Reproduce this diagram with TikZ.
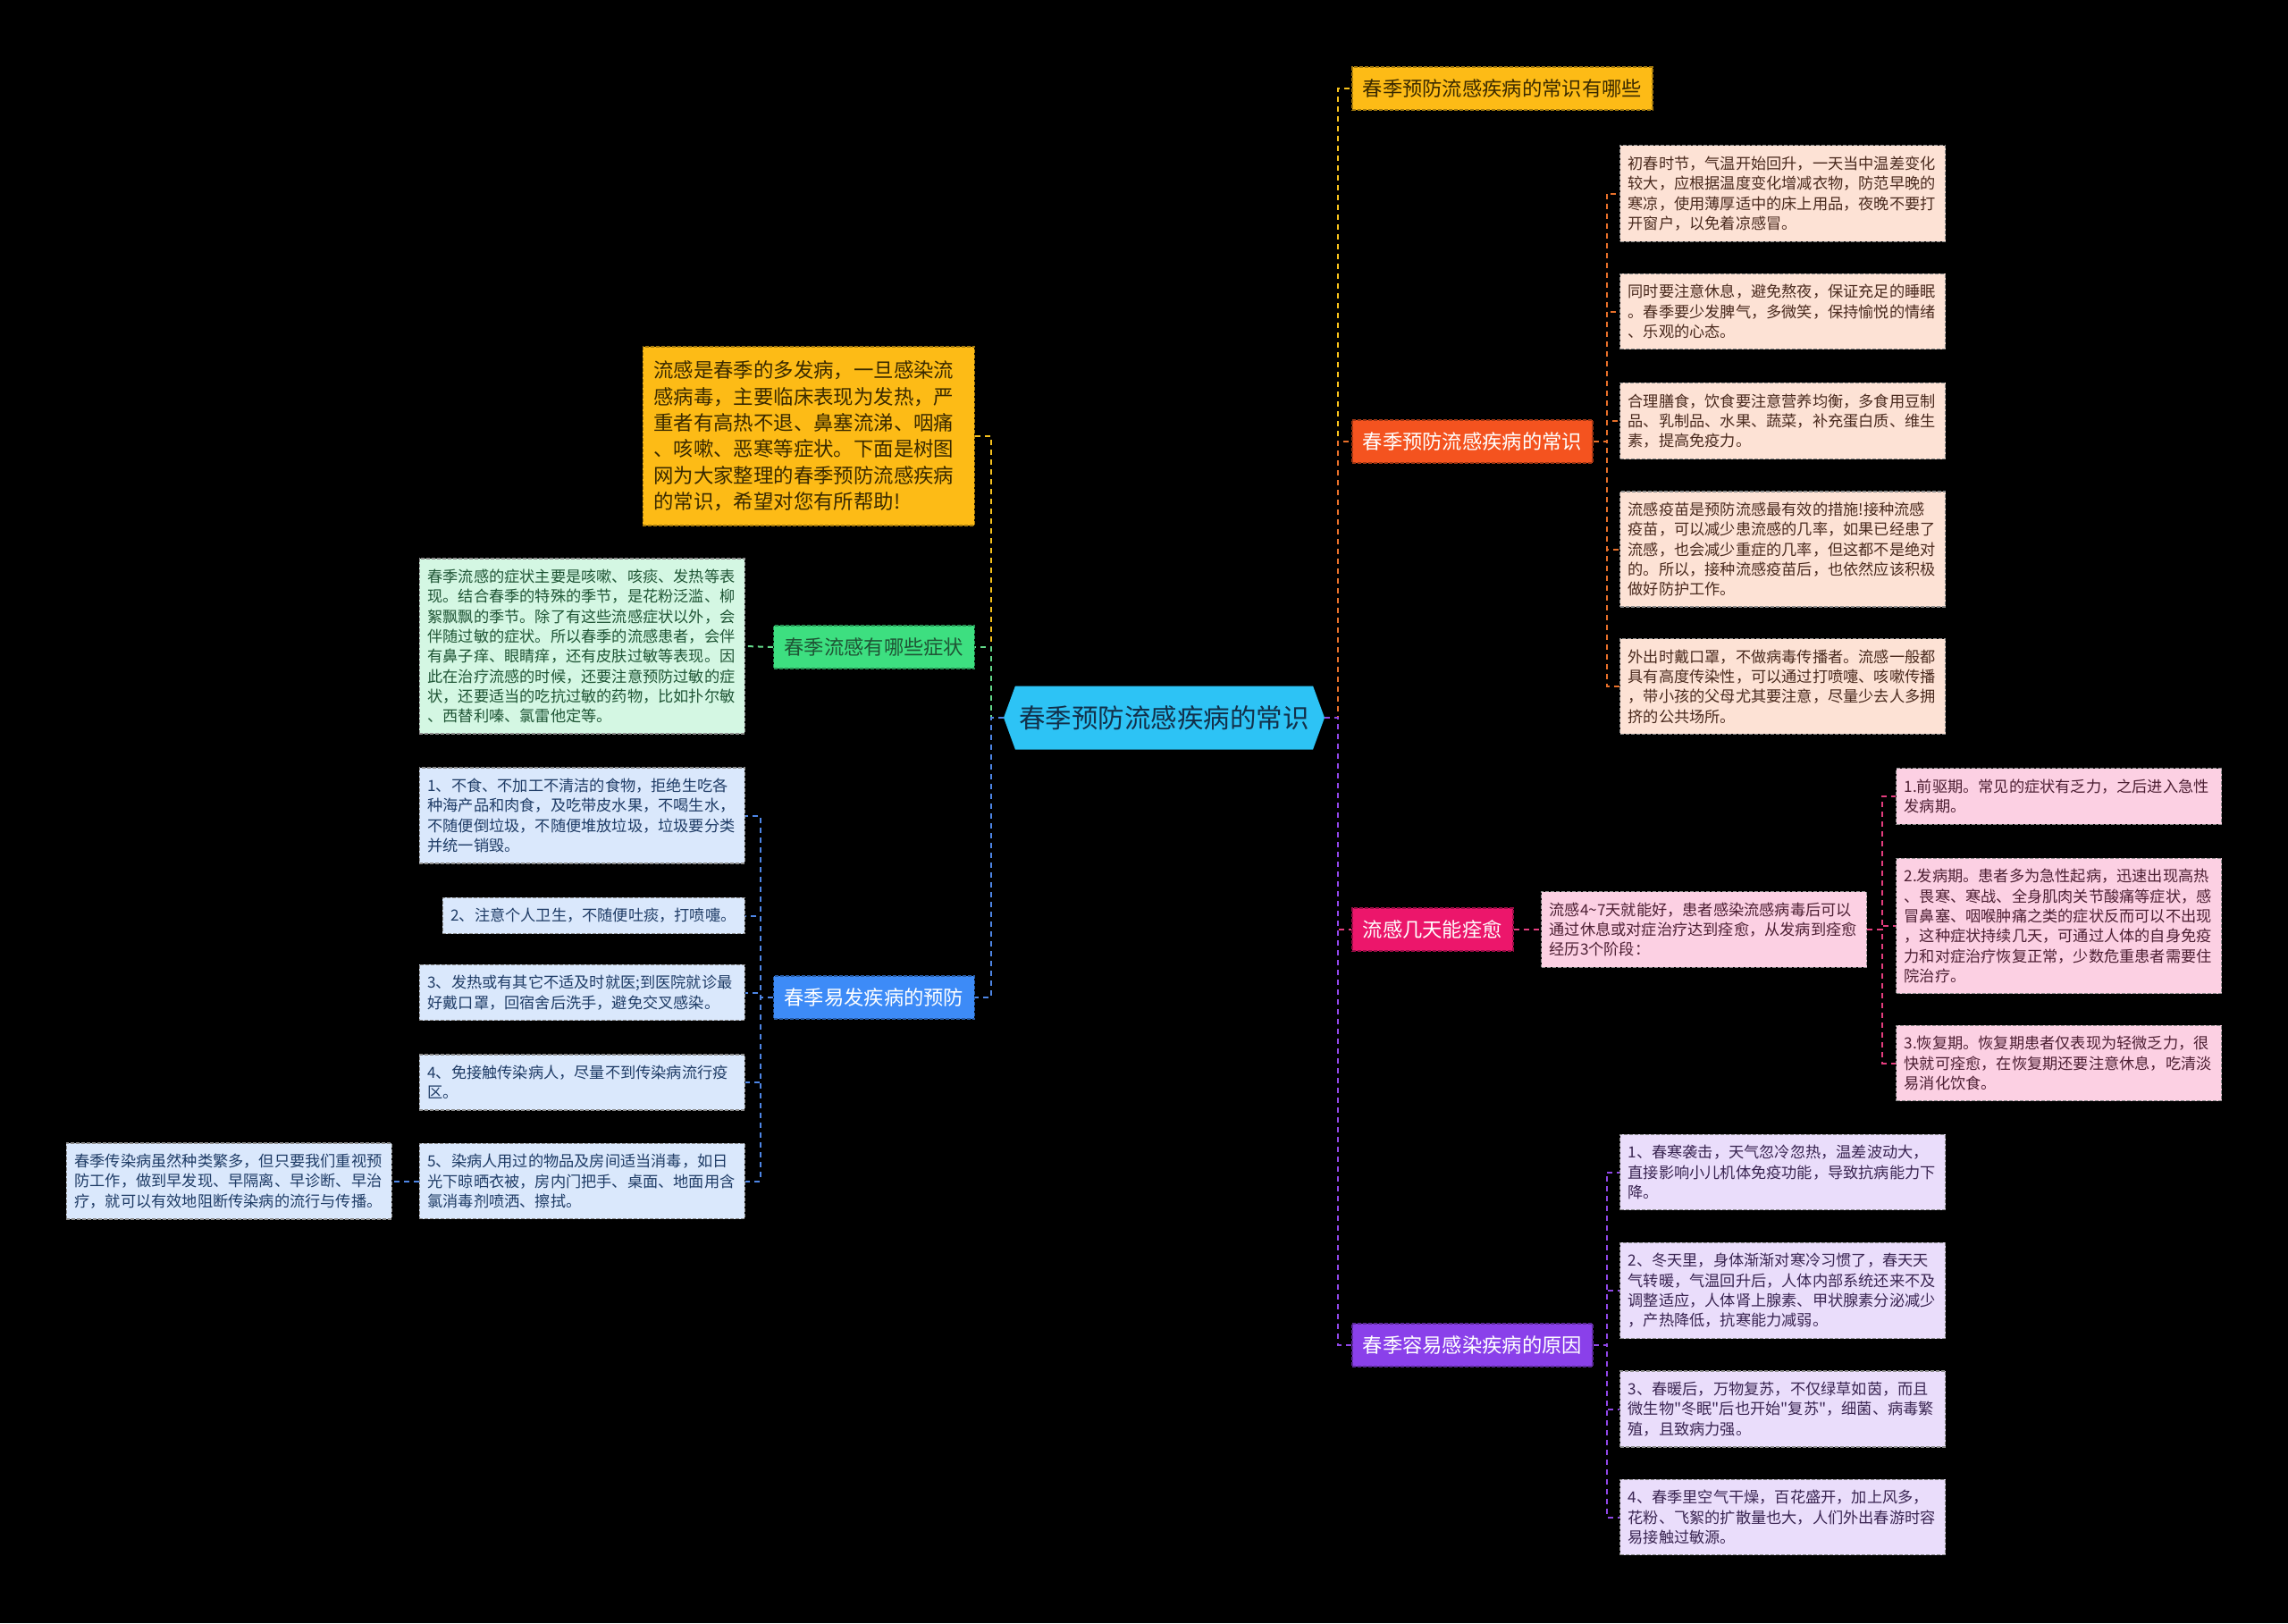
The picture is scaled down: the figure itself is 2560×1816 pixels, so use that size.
\documentclass[tikz,border=0pt]{standalone}
\usepackage{fontspec}
\setmainfont{Noto Sans CJK SC}
\newfontfamily\plainq{Noto Sans CJK SC}
\usetikzlibrary{shapes.symbols}
\definecolor{ctrF}{HTML}{2DC3F5}
\definecolor{ctrT}{HTML}{12304A}
\definecolor{ylwF}{HTML}{FDBB16}
\definecolor{ylwT}{HTML}{3A2A00}
\definecolor{ylwC}{HTML}{F7C21C}
\definecolor{orgF}{HTML}{F4531F}
\definecolor{orgC}{HTML}{E8702A}
\definecolor{orgL}{HTML}{FDE2D5}
\definecolor{orgT}{HTML}{4A2A1E}
\definecolor{pnkF}{HTML}{EC166B}
\definecolor{pnkC}{HTML}{E43D7E}
\definecolor{pnkL}{HTML}{FCD0E3}
\definecolor{pnkT}{HTML}{4D1F33}
\definecolor{purF}{HTML}{8A40EA}
\definecolor{purC}{HTML}{9047E8}
\definecolor{purL}{HTML}{EADDFB}
\definecolor{purT}{HTML}{3A2552}
\definecolor{grnF}{HTML}{3DDF80}
\definecolor{grnC}{HTML}{64D98A}
\definecolor{grnL}{HTML}{D4F7E3}
\definecolor{grnT}{HTML}{1F5535}
\definecolor{bluF}{HTML}{3D8BF7}
\definecolor{bluC}{HTML}{4E86E6}
\definecolor{bluL}{HTML}{DAE8FC}
\definecolor{bluT}{HTML}{1F3C66}
\begin{document}
\begin{tikzpicture}[x=1pt, y=-1pt,
  ln/.style={draw=#1, line width=2pt, dash pattern=on 6pt off 5pt},
  leafbox/.style={fill=#1, draw=black!45, line width=1.2pt, dash pattern=on 4pt off 2pt,
    text width=346pt, align=left, inner xsep=9pt, inner ysep=12pt,
    font=\fontsize{17.2}{22.3}\selectfont},
  topicbox/.style={fill=#1, draw=#1!65!black, line width=1.5pt, dash pattern=on 4pt off 2pt,
    minimum height=48pt, inner xsep=12pt, font=\fontsize{22.3}{26}\selectfont},
  centre/.style={signal, signal to=west and east, signal pointer angle=140, fill=ctrF,
    text=ctrT, minimum width=359pt, minimum height=71pt, inner xsep=4pt,
    font=\fontsize{29.5}{34}\selectfont}]
  \fill[black] (0,0) rectangle (2560,1816);
  \useasboundingbox (0,0) rectangle (2560,1816);
  \node[centre] (ctr) at (1302.5,803) {春季预防流感疾病的常识};
  \coordinate (rj) at (1497,803); \coordinate (lj) at (1109,803);

  % right: topics
  \node[topicbox=ylwF, text=ylwT, anchor=west] (ttl) at (1512,99) {春季预防流感疾病的常识有哪些};
  \node[topicbox=orgF, text=white, anchor=west] (ors) at (1512,494) {春季预防流感疾病的常识};
  \node[topicbox=pnkF, text=white, anchor=west] (pnk) at (1512,1040) {流感几天能痊愈};
  \node[topicbox=purF, text=white, anchor=west] (pur) at (1512,1505) {春季容易感染疾病的原因};

  \node[leafbox=orgL, text=orgT, anchor=west] (o1) at (1812,216.5) {初春时节，气温开始回升，一天当中温差变化\\较大，应根据温度变化增减衣物，防范早晚的\\寒凉，使用薄厚适中的床上用品，夜晚不要打\\开窗户，以免着凉感冒。};
  \node[leafbox=orgL, text=orgT, anchor=west] (o2) at (1812,348.5) {同时要注意休息，避免熬夜，保证充足的睡眠\\。春季要少发脾气，多微笑，保持愉悦的情绪\\、乐观的心态。};
  \node[leafbox=orgL, text=orgT, anchor=west] (o3) at (1812,471) {合理膳食，饮食要注意营养均衡，多食用豆制\\品、乳制品、水果、蔬菜，补充蛋白质、维生\\素，提高免疫力。};
  \node[leafbox=orgL, text=orgT, anchor=west] (o4) at (1812,614.5) {流感疫苗是预防流感最有效的措施!接种流感\\疫苗，可以减少患流感的几率，如果已经患了\\流感，也会减少重症的几率，但这都不是绝对\\的。所以，接种流感疫苗后，也依然应该积极\\做好防护工作。};
  \node[leafbox=orgL, text=orgT, anchor=west] (o5) at (1812,768) {外出时戴口罩，不做病毒传播者。流感一般都\\具有高度传染性，可以通过打喷嚏、咳嗽传播\\，带小孩的父母尤其要注意，尽量少去人多拥\\挤的公共场所。};

  \node[leafbox=pnkL, text=pnkT, anchor=west] (pmid) at (1724,1040) {流感4\textasciitilde7天就能好，患者感染流感病毒后可以\\通过休息或对症治疗达到痊愈，从发病到痊愈\\经历3个阶段：};
  \node[leafbox=pnkL, text=pnkT, anchor=west] (p1) at (2121,891) {1.前驱期。常见的症状有乏力，之后进入急性\\发病期。};
  \node[leafbox=pnkL, text=pnkT, anchor=west] (p2) at (2121,1036) {2.发病期。患者多为急性起病，迅速出现高热\\、畏寒、寒战、全身肌肉关节酸痛等症状，感\\冒鼻塞、咽喉肿痛之类的症状反而可以不出现\\，这种症状持续几天，可通过人体的自身免疫\\力和对症治疗恢复正常，少数危重患者需要住\\院治疗。};
  \node[leafbox=pnkL, text=pnkT, anchor=west] (p3) at (2121,1189.5) {3.恢复期。恢复期患者仅表现为轻微乏力，很\\快就可痊愈，在恢复期还要注意休息，吃清淡\\易消化饮食。};

  \node[leafbox=purL, text=purT, anchor=west] (u1) at (1812,1311.5) {1、春寒袭击，天气忽冷忽热，温差波动大，\\直接影响小儿机体免疫功能，导致抗病能力下\\降。};
  \node[leafbox=purL, text=purT, anchor=west] (u2) at (1812,1444) {2、冬天里，身体渐渐对寒冷习惯了，春天天\\气转暖，气温回升后，人体内部系统还来不及\\调整适应，人体肾上腺素、甲状腺素分泌减少\\，产热降低，抗寒能力减弱。};
  \node[leafbox=purL, text=purT, anchor=west] (u3) at (1812,1576.5) {3、春暖后，万物复苏，不仅绿草如茵，而且\\微生物{\plainq"}冬眠{\plainq"}后也开始{\plainq"}复苏{\plainq"}，细菌、病毒繁\\殖，且致病力强。};
  \node[leafbox=purL, text=purT, anchor=west] (u4) at (1812,1697.5) {4、春季里空气干燥，百花盛开，加上风多，\\花粉、飞絮的扩散量也大，人们外出春游时容\\易接触过敏源。};

  % left: topics
  \node[topicbox=ylwF, text=ylwT, anchor=east, text width=347pt, align=left, inner ysep=16pt,
    font=\fontsize{22.4}{29.4}\selectfont] (intro) at (1091,488) {流感是春季的多发病，一旦感染流\\感病毒，主要临床表现为发热，严\\重者有高热不退、鼻塞流涕、咽痛\\、咳嗽、恶寒等症状。下面是树图\\网为大家整理的春季预防流感疾病\\的常识，希望对您有所帮助!};
  \node[topicbox=grnF, text=grnT, anchor=east] (sym) at (1091,724) {春季流感有哪些症状};
  \node[topicbox=bluF, text=white, anchor=east] (prv) at (1091,1116) {春季易发疾病的预防};

  \node[leafbox=grnL, text=grnT, anchor=east] (g1) at (834,723) {春季流感的症状主要是咳嗽、咳痰、发热等表\\现。结合春季的特殊的季节，是花粉泛滥、柳\\絮飘飘的季节。除了有这些流感症状以外，会\\伴随过敏的症状。所以春季的流感患者，会伴\\有鼻子痒、眼睛痒，还有皮肤过敏等表现。因\\此在治疗流感的时候，还要注意预防过敏的症\\状，还要适当的吃抗过敏的药物，比如扑尔敏\\、西替利嗪、氯雷他定等。};

  \node[leafbox=bluL, text=bluT, anchor=east] (b1) at (834,912.5) {1、不食、不加工不清洁的食物，拒绝生吃各\\种海产品和肉食，及吃带皮水果，不喝生水，\\不随便倒垃圾，不随便堆放垃圾，垃圾要分类\\并统一销毁。};
  \node[leafbox=bluL, text=bluT, anchor=east, text width=320pt] (b2) at (834,1024.5) {2、注意个人卫生，不随便吐痰，打喷嚏。};
  \node[leafbox=bluL, text=bluT, anchor=east] (b3) at (834,1110.5) {3、发热或有其它不适及时就医;到医院就诊最\\好戴口罩，回宿舍后洗手，避免交叉感染。};
  \node[leafbox=bluL, text=bluT, anchor=east] (b4) at (834,1211) {4、免接触传染病人，尽量不到传染病流行疫\\区。};
  \node[leafbox=bluL, text=bluT, anchor=east] (b5) at (834,1321.5) {5、染病人用过的物品及房间适当消毒，如日\\光下晾晒衣被，房内门把手、桌面、地面用含\\氯消毒剂喷洒、擦拭。};
  \node[leafbox=bluL, text=bluT, anchor=east] (bfar) at (439,1321.5) {春季传染病虽然种类繁多，但只要我们重视预\\防工作，做到早发现、早隔离、早诊断、早治\\疗，就可以有效地阻断传染病的流行与传播。};

  % connectors
  \draw[ln=ylwC] (ctr.east) -- (rj) |- (ttl.west);
  \draw[ln=orgC] (ctr.east) -- (rj) |- (ors.west);
  \draw[ln=pnkC] (ctr.east) -- (rj) |- (pnk.west);
  \draw[ln=purC] (ctr.east) -- (rj) |- (pur.west);
  \draw[ln=ylwC] (ctr.west) -- (lj) |- (intro.east);
  \draw[ln=grnC] (ctr.west) -- (lj) |- (sym.east);
  \draw[ln=bluC] (ctr.west) -- (lj) |- (prv.east);

  \coordinate (oj) at (1798,494);
  \foreach \n in {o1,o2,o3,o4,o5} \draw[ln=orgC] (ors.east) -- (oj) |- (\n.west);
  \draw[ln=pnkC] (pnk.east) -- (pmid.west);
  \coordinate (pj) at (2106,1040);
  \foreach \n in {p1,p2,p3} \draw[ln=pnkC] (pmid.east) -- (pj) |- (\n.west);
  \coordinate (uj) at (1798,1505);
  \foreach \n in {u1,u2,u3,u4} \draw[ln=purC] (pur.east) -- (uj) |- (\n.west);
  \draw[ln=grnC] (sym.west) -- (g1.east);
  \coordinate (bj) at (851,1116);
  \foreach \n in {b1,b2,b3,b4,b5} \draw[ln=bluC] (prv.west) -- (bj) |- (\n.east);
  \draw[ln=bluC] (b5.west) -- (bfar.east);
\end{tikzpicture}
\end{document}
